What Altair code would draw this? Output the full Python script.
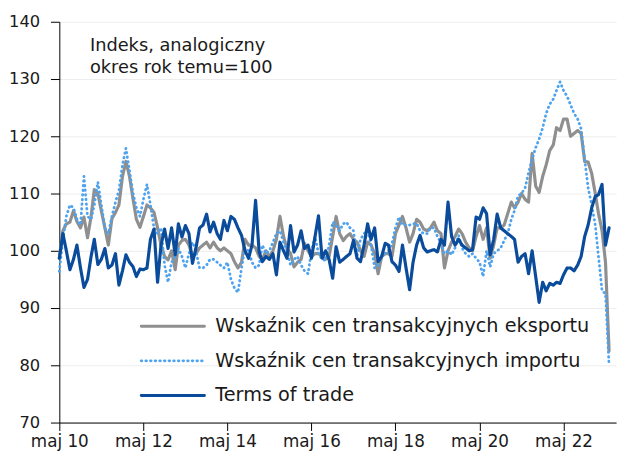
import altair as alt
import pandas as pd

# Monthly data, May 2010 onward
start = "2010-05-01"
n_months = 158

export_idx = [
    98.7, 103.5, 104.7, 105, 107, 105.1, 104, 105.9, 102.3, 106,
    110.7, 110, 107, 104, 101, 105.6, 106.7, 108, 113, 115.6,
    113, 109, 105.5, 104.1, 106, 108, 107.5, 106.7, 104, 101,
    99, 98.4, 100, 96.7, 101, 101.8, 102, 101, 99, 99.5,
    100.5, 101, 101.5, 100.5, 101.5, 100.5, 100, 100.5, 100, 99.5,
    98.1, 97, 98, 102, 101, 101, 100.5, 99, 98.5, 100,
    99, 100, 102, 106, 102.5, 100.4, 99.5, 97.2, 98, 98.5,
    101.3, 100, 99, 99.5, 99.5, 99, 98.5, 99, 102.5, 106,
    103, 101.8, 102.5, 103, 102, 101.5, 100, 99, 101.5, 101,
    99.5, 96, 99, 99.5, 99.5, 99, 103, 104.5, 106, 104,
    101.5, 103, 105.5, 105, 103.8, 103.5, 104, 105, 103.5, 103,
    97, 100, 101.5, 102.5, 103.8, 103, 101.5, 100.5, 100, 102.5,
    104.4, 102, 104, 98.7, 101, 104, 104, 104.5, 106.5, 108.5,
    107.5, 108.5, 110, 109, 108.5, 117, 111.3, 110.2, 113, 115,
    117.5, 118.5, 121.5, 121, 123, 123, 120, 120.5, 121, 120.5,
    115.6, 115.5, 113.5, 110, 106.5, 103.5, 98, 82.5,
]

import_idx = [
    96.4, 102, 106, 108, 107.5, 105.5, 104.5, 113, 106, 105.5,
    108, 112, 108, 104, 103, 106, 108.5, 110.5, 115, 117.9,
    114, 110, 107.5, 106, 109, 111.6, 108, 104, 103, 104,
    97.5, 94.5, 98, 99, 100.4, 99, 97, 99.5, 101.5, 100,
    97, 97, 97.5, 98.5, 98.5, 98, 97.5, 97, 98, 95,
    93.5, 92.7, 97, 100.5, 100, 98, 97, 97.5, 101, 99.5,
    100, 101.5, 103, 103.5, 101.5, 100, 97.5, 98.5, 99, 97.5,
    96.5, 96, 100, 102.5, 99.5, 98.5, 98.3, 101, 105, 104.5,
    103.5, 104.7, 105, 104, 103.5, 99, 102, 103, 103.5, 101,
    97, 97.5, 99, 99.5, 100, 101.3, 104, 105.9, 104.5, 104.5,
    104.5, 104.7, 104.8, 103.5, 103, 103, 104, 104, 102.5, 101.3,
    99.5, 100, 99.3, 100.5, 102.7, 100.5, 99.5, 99, 99.5, 98.7,
    98, 95.5, 100, 97.2, 99.5, 100, 100.5, 101.8, 103, 105.5,
    107, 109.6, 110, 111, 113.6, 116, 118, 119.5, 121.5, 124,
    125.6, 126.5, 128, 129.5, 128, 127, 125.5, 124, 123, 121.3,
    116, 111, 108, 104.5, 99, 93, 92.5, 80,
]

tot_idx = [
    98.7, 103, 100, 96.7, 98.5, 101, 97, 93.6, 95, 99,
    102, 97.6, 98.5, 100.4, 97, 97.5, 99.5, 94, 96.5, 99.3,
    98, 97.2, 95.5, 96.8, 96.7, 97, 102, 103.8, 94.5, 101,
    103.8, 100.4, 104, 99.3, 104.7, 102.4, 104.4, 103, 97.8, 100.5,
    104, 104.5, 106.4, 103.3, 105, 103, 102, 105.3, 103.5, 106,
    105.5, 104, 102.7, 100, 98.7, 101, 108.8, 99.8, 98.1, 99,
    98.5, 99.5, 95.8, 101.5, 100, 98.7, 104.4, 99.8, 101, 103.5,
    100.4, 101, 98.7, 102.5, 106.1, 98.7, 100, 98.5, 95.2, 100.7,
    98, 98.5, 99, 99.5, 101.8, 98.7, 98.1, 101, 104.7, 102,
    104, 98.1, 99, 101.3, 101, 98.1, 97.5, 96.4, 101, 97,
    93.2, 98, 101, 102.7, 100.5, 99.8, 100, 100.2, 99.8, 102,
    101, 108.5, 102.5, 101, 102, 101, 100.5, 100, 100.2, 105.9,
    105.5, 107.5, 106.5, 99.3, 102, 106.4, 104, 103.5, 103, 102.5,
    102, 98, 99, 99.5, 96, 100, 95.5, 91, 94.5, 93,
    94.3, 94, 94.5, 94.3, 95.8, 97, 97, 96.5, 97.5, 99,
    102.5, 104.5, 107.5, 109.5, 109.8, 111.6, 101, 104,
]

series_names = [
    "Wskaźnik cen transakcyjnych eksportu",
    "Wskaźnik cen transakcyjnych importu",
    "Terms of trade",
]
series_colors = ["#8f8f8f", "#4da3ef", "#0a4c9b"]
series_dash = [[1, 0], [0.5, 4.2], [1, 0]]
series_width = [3.2, 2.8, 3.2]

note_lines = ["Indeks, analogiczny", "okres rok temu=100"]
tick_years = [2010, 2012, 2014, 2016, 2018, 2020, 2022]
y_ticks = [70, 80, 90, 100, 110, 120, 130, 140]

FONT = "DejaVu Sans"
TEXT_COLOR = "#1a1a1a"

dates = pd.date_range(start, periods=n_months, freq="MS")
frames = []
for name, vals in zip(series_names, [export_idx, import_idx, tot_idx]):
    frames.append(pd.DataFrame({"date": dates, "value": vals, "series": name}))
df = pd.concat(frames, ignore_index=True)

color = alt.Color(
    "series:N",
    scale=alt.Scale(domain=series_names, range=series_colors),
    legend=None,
)
dash = alt.StrokeDash(
    "series:N",
    scale=alt.Scale(domain=series_names, range=series_dash),
    legend=None,
)

x = alt.X(
    "date:T",
    scale=alt.Scale(domain=[alt.DateTime(year=2010, month=5, date=1),
                            alt.DateTime(year=2023, month=8, date=1)]),
    axis=alt.Axis(
        title=None,
        values=[alt.DateTime(year=y, month=5, date=1) for y in tick_years],
        labelExpr="'maj ' + timeFormat(datum.value, '%y')",
        grid=False,
        tickSize=8,
        tickColor="#000000",
        domainColor="#000000",
        labelFont=FONT,
        labelFontSize=17,
        labelColor=TEXT_COLOR,
        labelPadding=3,
        labelFlush=False,
        labelOverlap=False,
    ),
)
y = alt.Y(
    "value:Q",
    scale=alt.Scale(domain=[70, 140], nice=False, zero=False),
    axis=alt.Axis(
        title=None,
        values=y_ticks,
        grid=True,
        gridColor="#ededed",
        tickSize=9,
        tickColor="#000000",
        domainColor="#000000",
        labelFont=FONT,
        labelFontSize=16.5,
        labelColor=TEXT_COLOR,
        labelPadding=11,
    ),
)

layers = []
for name, width in zip(series_names, series_width):
    layers.append(
        alt.Chart(df)
        .transform_filter(alt.datum.series == name)
        .mark_line(strokeWidth=width, strokeCap="round", strokeJoin="round")
        .encode(x=x, y=y, color=color, strokeDash=dash)
    )

# Hand-built legend (rows 35 px apart, long line symbols)
leg_df = pd.DataFrame({"series": series_names, "row": list(range(len(series_names)))})
leg_base = alt.Chart(leg_df).transform_calculate(ly="308.5 + 35 * datum.row")
leg_lines = leg_base.mark_rule(strokeWidth=3, strokeCap="round").encode(
    x=alt.value(83),
    x2=alt.value(147),
    y=alt.Y("ly:Q", scale=None, axis=None),
    color=color,
    strokeDash=dash,
)
leg_text = leg_base.mark_text(
    align="left", baseline="middle", font=FONT, fontSize=19.5, color=TEXT_COLOR
).encode(
    x=alt.value(158),
    y=alt.Y("ly:Q", scale=None, axis=None),
    text="series:N",
)

note = (
    alt.Chart(pd.DataFrame({"t": [0]}))
    .mark_text(
        text=note_lines,
        align="left",
        baseline="alphabetic",
        font=FONT,
        fontSize=18,
        lineHeight=22,
        color=TEXT_COLOR,
    )
    .encode(x=alt.value(31), y=alt.value(30))
)

chart = (
    alt.layer(*layers, leg_lines, leg_text, note)
    .properties(
        width=564,
        height=406,
        autosize=alt.AutoSizeParams(type="none"),
        padding={"left": 52, "top": 11, "right": 7, "bottom": 36},
        background="white",
    )
    .configure_view(stroke=None)
)

chart.save("out.html", embed_options={"renderer": "svg", "actions": False})
